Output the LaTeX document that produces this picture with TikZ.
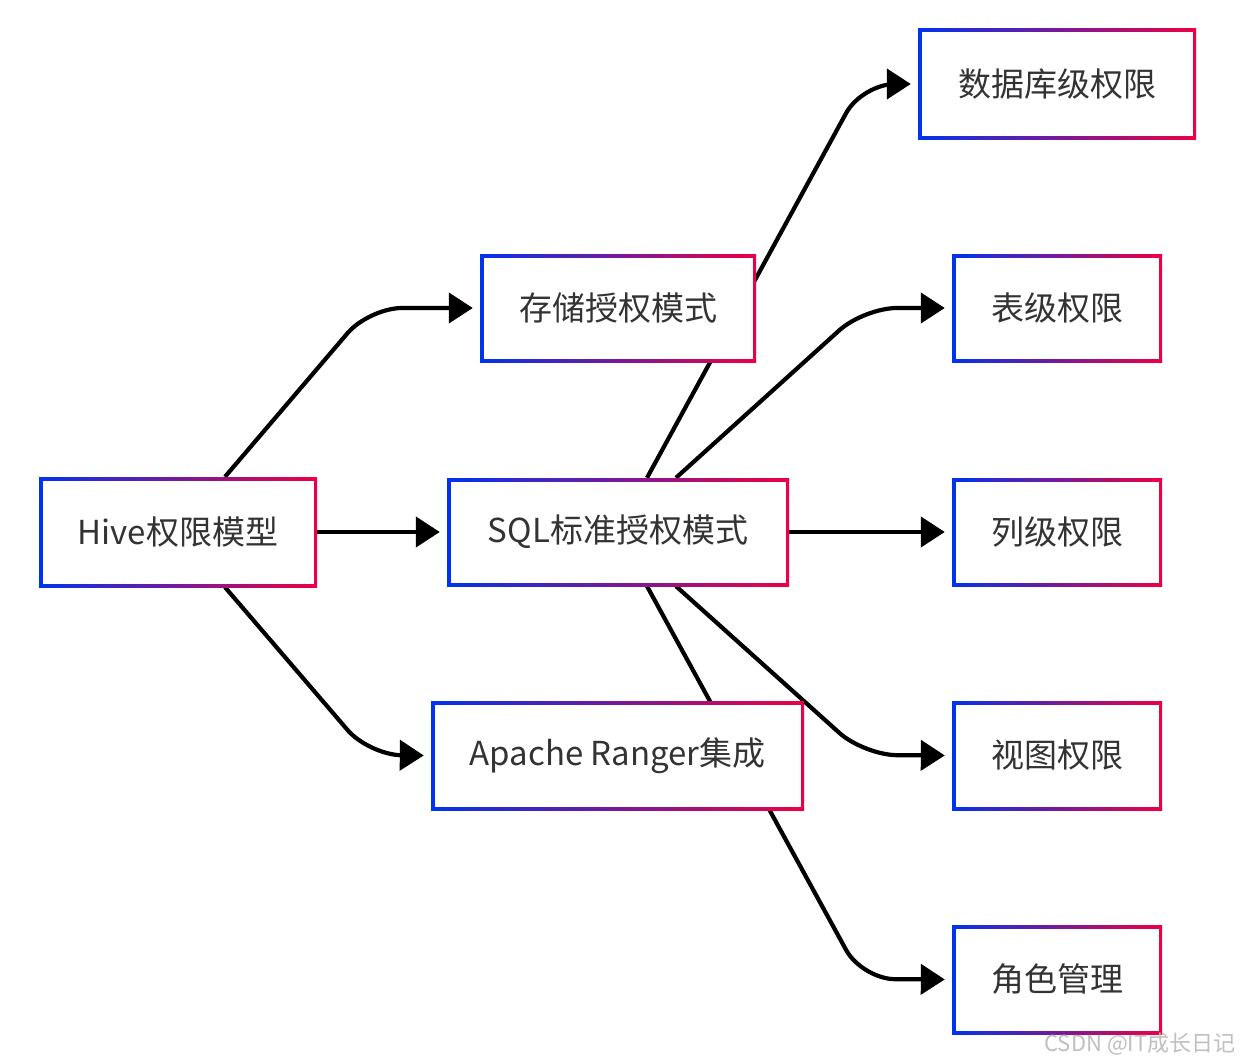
\documentclass[tikz,border=0pt]{standalone}
\usepackage{fontspec}
\setmainfont{Noto Sans CJK SC}
\usetikzlibrary{arrows.meta}
\definecolor{bl}{RGB}{0,51,238}
\definecolor{rd}{RGB}{238,0,68}
\definecolor{tx}{RGB}{51,51,51}
\pgfdeclarelayer{bg}
\pgfsetlayers{bg,main}
\begin{document}
\begin{tikzpicture}[x=1pt,y=-1pt,
  box/.style={rectangle, fill=white, inner sep=0pt, minimum height=108pt,
    font=\fontsize{33}{40}\selectfont, text=tx,
    path picture={
      \shade[left color=bl,right color=rd] (path picture bounding box.south west) rectangle (path picture bounding box.north east);
      \fill[white] ([shift={(3.5pt,3.5pt)}]path picture bounding box.south west) rectangle ([shift={(-3.5pt,-3.5pt)}]path picture bounding box.north east);}},
  arr/.style={line width=4.2pt, -{Triangle[length=24pt,width=30pt]}, rounded corners=33pt, shorten >=7pt}]
\useasboundingbox (0,0) rectangle (1244,1062);
\node[box, minimum width=278pt, minimum height=110pt] (hive) at (178,532) {Hive权限模型};
\node[box, minimum width=276pt] (st) at (618,308) {存储授权模式};
\node[box, minimum width=342pt] (sql) at (618,532) {SQL标准授权模式};
\node[box, minimum width=373pt, minimum height=109pt] (rg) at (617.5,755.5) {Apache Ranger集成};
\node[box, minimum width=278pt, minimum height=110pt] (db) at (1057,84) {数据库级权限};
\node[box, minimum width=210pt] (tb) at (1057,308) {表级权限};
\node[box, minimum width=210pt] (col) at (1057,532) {列级权限};
\node[box, minimum width=210pt, minimum height=109pt] (view) at (1057,755.5) {视图权限};
\node[box, minimum width=210pt, minimum height=109pt] (role) at (1057,979.5) {角色管理};
\node[font=\fontsize{22}{26}\selectfont, text=gray!50] (wm) at (1140,1044) {CSDN @IT成长日记};
\begin{pgfonlayer}{bg}
\fill[white] (0,0) rectangle (1244,1062);
\draw[arr] ([xshift=47pt]hive.north) -- (369,308) -- (st.west);
\draw[arr] (hive.east) -- (sql.west);
\draw[arr] ([xshift=47pt]hive.south) -- (369,755) -- (rg.west);
\draw[arr] ([xshift=29pt]sql.north) -- (862,84) -- (db.west);
\draw[arr] ([xshift=58pt]sql.north) -- (864,308) -- (tb.west);
\draw[arr] (sql.east) -- (col.west);
\draw[arr] ([xshift=58pt]sql.south) -- (864,755) -- (view.west);
\draw[arr] ([xshift=29pt]sql.south) -- (862,979) -- (role.west);
\end{pgfonlayer}
\end{tikzpicture}
\end{document}
